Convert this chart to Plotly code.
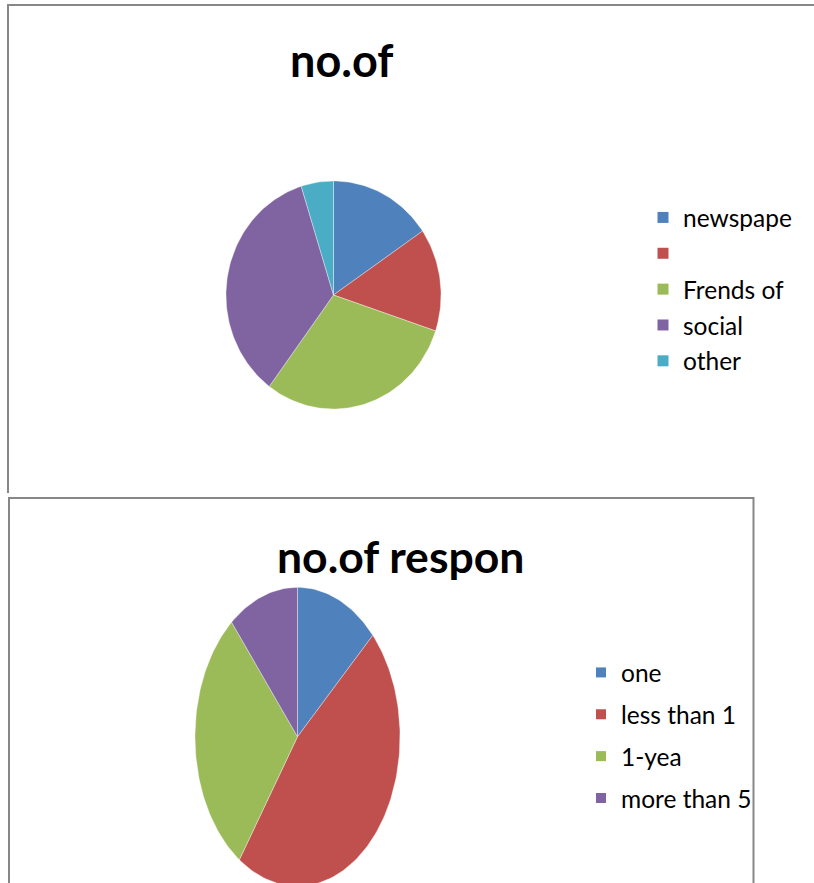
import numpy as np
import plotly.graph_objects as go

# ---------------- data ----------------
source_labels = ["newspape", "", "Frends of", "social", "other"]
source_values = [16, 15, 31, 36, 5]
source_title = "no.of"

exp_labels = ["one", "less than 1", "1-yea", "more than 5"]
exp_values = [13, 46, 29, 11]
exp_title = "no.of respon"

colors = ["#4F81BD", "#C0504D", "#9BBB59", "#8064A2", "#4BACC6"]

# ---------------- layout geometry (pixels) ----------------
W, H = 814, 883
FONT = "Lato"
BORDER = "#878787"


def px_x(x):
    return x / W


def px_y(y):
    return 1 - y / H


def pie_axes(cx, cy, rx, ry):
    top = cy - ry
    bottom = min(cy + ry, H)
    xdom = [px_x(cx - rx), px_x(cx + rx)]
    ydom = [max(0.0, px_y(bottom)), px_y(top)]
    yr = [-(bottom - cy) / ry, 1.0]
    return xdom, ydom, yr


def slice_paths(values, n=240):
    vals = np.asarray(values, dtype=float)
    frac = np.concatenate([[0], np.cumsum(vals) / vals.sum()])
    paths = []
    for i in range(len(vals)):
        a0, a1 = frac[i], frac[i + 1]
        k = max(4, int(n * (a1 - a0)))
        t = np.linspace(a0, a1, k) * 2 * np.pi  # clockwise from 12 o'clock
        xs = np.concatenate([[0], np.sin(t), [0]])
        ys = np.concatenate([[0], np.cos(t), [0]])
        paths.append((xs, ys))
    return paths


fig = go.Figure()

# top pie
for i, (xs, ys) in enumerate(slice_paths(source_values)):
    fig.add_trace(go.Scatter(
        x=xs, y=ys, mode="lines", fill="toself",
        fillcolor=colors[i], line=dict(color="rgba(255,255,255,0.6)", width=0.6),
        hoverinfo="skip", showlegend=False, xaxis="x", yaxis="y"))
for i, lab in enumerate(source_labels):
    fig.add_trace(go.Scatter(
        x=[None], y=[None], mode="markers", name=lab if lab else " ",
        marker=dict(symbol="square", size=11, color=colors[i], line=dict(width=0)),
        legend="legend", legendgroup="s%d" % i, xaxis="x", yaxis="y"))

# bottom pie
for i, (xs, ys) in enumerate(slice_paths(exp_values)):
    fig.add_trace(go.Scatter(
        x=xs, y=ys, mode="lines", fill="toself",
        fillcolor=colors[i], line=dict(color="rgba(255,255,255,0.6)", width=0.6),
        hoverinfo="skip", showlegend=False, xaxis="x2", yaxis="y2"))
for i, lab in enumerate(exp_labels):
    fig.add_trace(go.Scatter(
        x=[None], y=[None], mode="markers", name=lab,
        marker=dict(symbol="square", size=10, color=colors[i], line=dict(width=0)),
        legend="legend2", legendgroup="e%d" % i, xaxis="x2", yaxis="y2"))

x1d, y1d, y1r = pie_axes(333.5, 295.0, 107.5, 114.0)
x2d, y2d, y2r = pie_axes(297.5, 736.7, 102.5, 149.4)
hidden = dict(visible=False, fixedrange=True, showgrid=False, zeroline=False)

shapes = [
    # top chart frame (left + top edges visible)
    dict(type="path", xref="paper", yref="paper",
         path="M %f,%f L %f,%f L %f,%f" % (px_x(8), px_y(493), px_x(8), px_y(5), px_x(830), px_y(5)),
         line=dict(color=BORDER, width=2), layer="below"),
    # bottom chart frame
    dict(type="rect", xref="paper", yref="paper",
         x0=px_x(9), x1=px_x(753.5), y0=px_y(900), y1=px_y(498),
         line=dict(color=BORDER, width=2), fillcolor="white", layer="below"),
]

fig.update_layout(
    width=W, height=H, margin=dict(l=0, r=0, t=0, b=0),
    paper_bgcolor="white", plot_bgcolor="rgba(0,0,0,0)",
    font=dict(family=FONT, color="black"),
    xaxis=dict(domain=x1d, range=[-1, 1], anchor="y", **hidden),
    yaxis=dict(domain=y1d, range=y1r, anchor="x", **hidden),
    xaxis2=dict(domain=x2d, range=[-1, 1], anchor="y2", **hidden),
    yaxis2=dict(domain=y2d, range=y2r, anchor="x2", **hidden),
    shapes=shapes,
    annotations=[
        dict(text="<b>%s</b>" % source_title, xref="paper", yref="paper",
             x=px_x(341), y=px_y(60), xanchor="center", yanchor="middle",
             showarrow=False, font=dict(family=FONT, size=45, color="black")),
        dict(text="<b>%s</b>" % exp_title, xref="paper", yref="paper",
             x=px_x(400), y=px_y(555), xanchor="center", yanchor="middle",
             showarrow=False, font=dict(family=FONT, size=44.5, color="black")),
    ],
    legend=dict(x=px_x(643), y=px_y(195), xanchor="left", yanchor="top",
                bgcolor="rgba(0,0,0,0)", borderwidth=0, traceorder="grouped",
                tracegroupgap=1, font=dict(family=FONT, size=24.5, color="black")),
    legend2=dict(x=px_x(581), y=px_y(650), xanchor="left", yanchor="top",
                 bgcolor="rgba(0,0,0,0)", borderwidth=0, traceorder="grouped",
                 tracegroupgap=7, font=dict(family=FONT, size=24.5, color="black")),
)

fig.write_html("out.html")
